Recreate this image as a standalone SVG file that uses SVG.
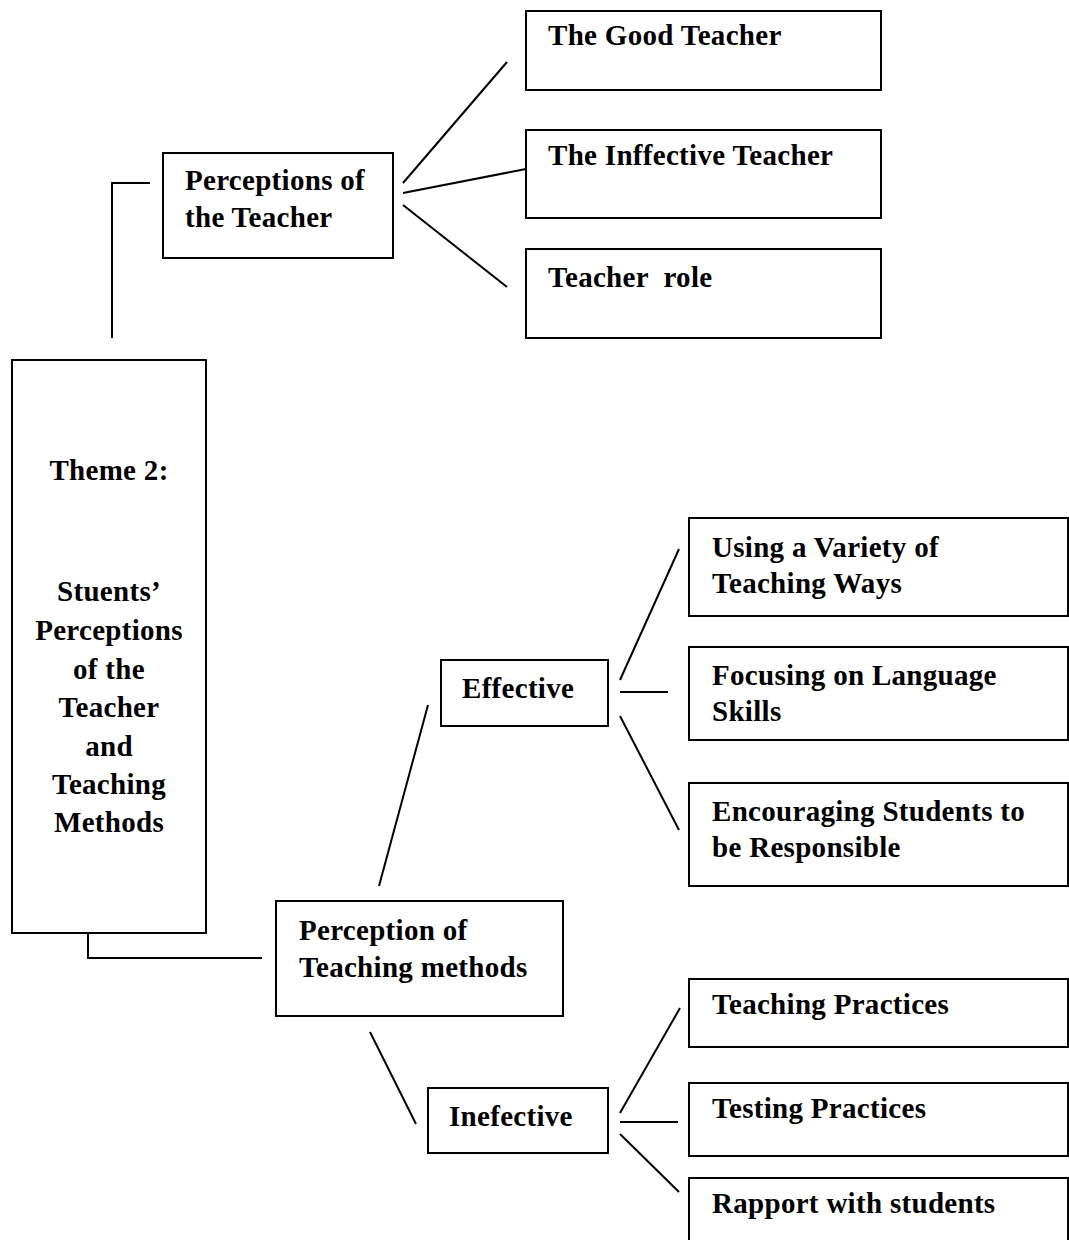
<svg xmlns="http://www.w3.org/2000/svg" width="1069" height="1240" viewBox="0 0 1069 1240">
  <style>
    .box { fill: #ffffff; stroke: #000000; stroke-width: 2; }
    .lbl { font-family: "Liberation Serif", "Times New Roman", serif; font-weight: bold; font-size: 29px; letter-spacing: 0.3px; fill: #000000; }
    .mid { text-anchor: middle; }
    .con { stroke: #000000; stroke-width: 2; fill: none; }
  </style>
  <rect width="1069" height="1240" fill="#ffffff"/>

  <!-- connectors -->
  <g id="connectors">
    <polyline class="con" points="112,338 112,183 150,183"/>
    <polyline class="con" points="88,933 88,958 262,958"/>
    <line class="con" x1="403" y1="183" x2="507" y2="62"/>
    <line class="con" x1="403" y1="193" x2="526" y2="169"/>
    <line class="con" x1="403" y1="205" x2="507" y2="287"/>
    <line class="con" x1="379" y1="886" x2="428" y2="705"/>
    <line class="con" x1="370" y1="1032" x2="416" y2="1124"/>
    <line class="con" x1="620" y1="680" x2="679" y2="549"/>
    <line class="con" x1="620" y1="692" x2="668" y2="692"/>
    <line class="con" x1="620" y1="716" x2="679" y2="830"/>
    <line class="con" x1="620" y1="1113" x2="680" y2="1008"/>
    <line class="con" x1="620" y1="1122" x2="678" y2="1122"/>
    <line class="con" x1="620" y1="1134" x2="679" y2="1192"/>
  </g>

  <g id="theme">
    <rect class="box" x="12" y="360" width="194" height="573"/>
    <text class="lbl mid" x="109" y="480">Theme 2:</text>
    <text class="lbl mid" x="109" y="601">Stuents’</text>
    <text class="lbl mid" x="109" y="640">Perceptions</text>
    <text class="lbl mid" x="109" y="679">of the</text>
    <text class="lbl mid" x="109" y="717">Teacher</text>
    <text class="lbl mid" x="109" y="756">and</text>
    <text class="lbl mid" x="109" y="794">Teaching</text>
    <text class="lbl mid" x="109" y="832">Methods</text>
  </g>

  <g id="perceptions-teacher">
    <rect class="box" x="163" y="153" width="230" height="105"/>
    <text class="lbl" x="185" y="190">Perceptions of</text>
    <text class="lbl" x="185" y="227">the Teacher</text>
  </g>

  <g id="good-teacher">
    <rect class="box" x="526" y="11" width="355" height="79"/>
    <text class="lbl" x="548" y="45">The Good Teacher</text>
  </g>

  <g id="ineffective-teacher">
    <rect class="box" x="526" y="130" width="355" height="88"/>
    <text class="lbl" x="548" y="165">The Inffective Teacher</text>
  </g>

  <g id="teacher-role">
    <rect class="box" x="526" y="249" width="355" height="89"/>
    <text class="lbl" x="548" y="287" xml:space="preserve">Teacher  role</text>
  </g>

  <g id="teaching-methods">
    <rect class="box" x="276" y="901" width="287" height="115"/>
    <text class="lbl" x="299" y="940">Perception of</text>
    <text class="lbl" x="299" y="977">Teaching methods</text>
  </g>

  <g id="effective">
    <rect class="box" x="441" y="660" width="167" height="66"/>
    <text class="lbl" x="462" y="698">Effective</text>
  </g>

  <g id="inefective">
    <rect class="box" x="428" y="1088" width="180" height="65"/>
    <text class="lbl" x="449" y="1126">Inefective</text>
  </g>

  <g id="variety">
    <rect class="box" x="689" y="518" width="379" height="98"/>
    <text class="lbl" x="712" y="557">Using a Variety of</text>
    <text class="lbl" x="712" y="593">Teaching Ways</text>
  </g>

  <g id="language-skills">
    <rect class="box" x="689" y="647" width="379" height="93"/>
    <text class="lbl" x="712" y="685">Focusing on Language</text>
    <text class="lbl" x="712" y="721">Skills</text>
  </g>

  <g id="responsible">
    <rect class="box" x="689" y="783" width="379" height="103"/>
    <text class="lbl" x="712" y="821">Encouraging Students to</text>
    <text class="lbl" x="712" y="857">be Responsible</text>
  </g>

  <g id="teaching-practices">
    <rect class="box" x="689" y="979" width="379" height="68"/>
    <text class="lbl" x="712" y="1014">Teaching Practices</text>
  </g>

  <g id="testing-practices">
    <rect class="box" x="689" y="1083" width="379" height="73"/>
    <text class="lbl" x="712" y="1118">Testing Practices</text>
  </g>

  <g id="rapport">
    <rect class="box" x="689" y="1178" width="379" height="70"/>
    <text class="lbl" x="712" y="1213">Rapport with students</text>
  </g>
</svg>
